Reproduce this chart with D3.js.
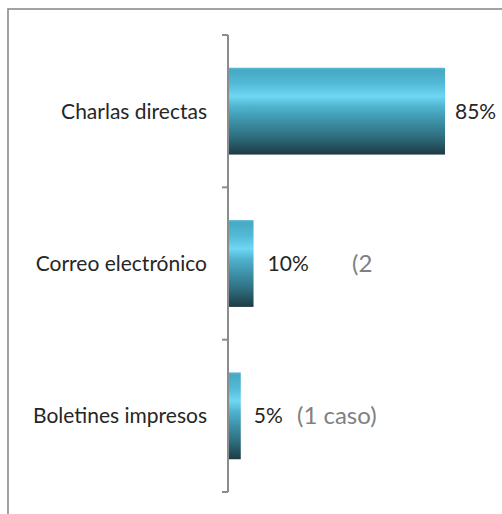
<!DOCTYPE html>
<html>
<head>
<meta charset="utf-8">
<script src="https://cdn.jsdelivr.net/npm/d3@7"></script>
<style>
  html, body { margin: 0; padding: 0; background: #fff; }
  svg { display: block; }
  text { font-family: Lato, "Open Sans", sans-serif; }
</style>
</head>
<body>
<svg id="chart" width="502" height="514"></svg>
<script>
// Canales de comunicación utilizados (% de casos)
const categories = ["Charlas directas", "Correo electrónico", "Boletines impresos"];
const values = [85, 10, 5];
const valueLabels = ["85%", "10%", "5%"];
const notes = ["", "(2", "(1 caso)"];

const W = 502, H = 514;
const svg = d3.select("#chart");

// outer frame (runs off the right and bottom edges)
svg.append("rect")
  .attr("x", 8).attr("y", 9)
  .attr("width", W).attr("height", H)
  .attr("fill", "#fff")
  .attr("stroke", "#8c8c8c")
  .attr("stroke-width", 1.6);

const axisX = 228;
const x = d3.scaleLinear().domain([0, 85]).range([axisX, 445]);
const y = d3.scaleBand().domain(categories).range([35, 492]).paddingInner(0.43).paddingOuter(0.215);

// bar gradient: light band near the top, dark at the bottom
const defs = svg.append("defs");
const grad = defs.append("linearGradient")
  .attr("id", "barGrad").attr("x1", 0).attr("y1", 0).attr("x2", 0).attr("y2", 1);
[
  [0, "#5ab8d2"], [0.03, "#47a9c4"], [0.18, "#52bad6"], [0.33, "#6fd7f3"],
  [0.45, "#4fb3cf"], [0.62, "#3d90a6"], [0.8, "#2e6d7e"], [1, "#1d3a44"]
].forEach(([o, c]) => grad.append("stop").attr("offset", o).attr("stop-color", c));

// bars
svg.append("g").selectAll("rect")
  .data(categories)
  .join("rect")
  .attr("x", x(0) + 1)
  .attr("y", d => y(d))
  .attr("width", (d, i) => x(values[i]) - x(0) - 1)
  .attr("height", y.bandwidth())
  .attr("fill", "url(#barGrad)");

// category axis with ticks between groups
const tickYs = d3.range(categories.length + 1).map(i => 35 + i * (492 - 35) / categories.length);
const axisG = svg.append("g").attr("stroke", "#8c8c8c").attr("stroke-width", 2);
axisG.append("line").attr("x1", axisX).attr("x2", axisX).attr("y1", 35).attr("y2", 492);
axisG.selectAll("line.tick").data(tickYs).join("line")
  .attr("class", "tick")
  .attr("x1", axisX - 6).attr("x2", axisX).attr("y1", d => d).attr("y2", d => d);

// category labels
svg.append("g").selectAll("text")
  .data(categories)
  .join("text")
  .attr("x", 207)
  .attr("y", d => y(d) + y.bandwidth() / 2)
  .attr("dy", "0.35em")
  .attr("text-anchor", "end")
  .attr("font-size", 21)
  .attr("fill", "#262626")
  .text(d => d);

// value labels
const labelOffset = [10, 14, 13];
svg.append("g").selectAll("text")
  .data(categories)
  .join("text")
  .attr("x", (d, i) => x(values[i]) + labelOffset[i])
  .attr("y", d => y(d) + y.bandwidth() / 2)
  .attr("dy", "0.35em")
  .attr("font-size", 21)
  .attr("fill", "#262626")
  .text((d, i) => valueLabels[i]);

// case notes in grey
const noteX = [0, 352, 297];
svg.append("g").selectAll("text")
  .data(categories)
  .join("text")
  .attr("x", (d, i) => noteX[i])
  .attr("y", d => y(d) + y.bandwidth() / 2)
  .attr("dy", "0.35em")
  .attr("font-size", 24)
  .attr("fill", "#808080")
  .text((d, i) => notes[i]);
</script>
</body>
</html>
